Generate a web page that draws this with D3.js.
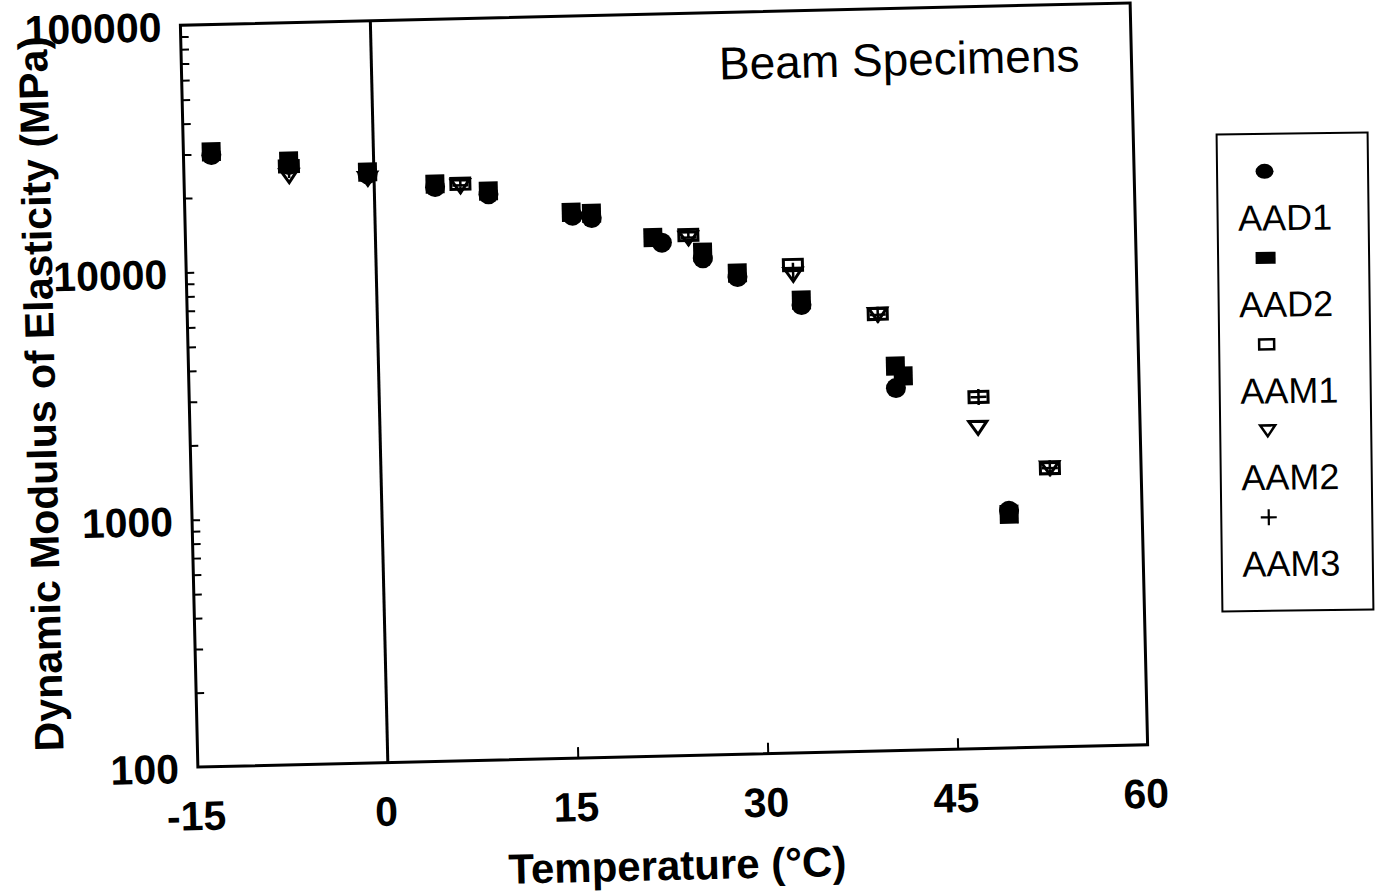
<!DOCTYPE html>
<html>
<head>
<meta charset="utf-8">
<script src="https://cdn.jsdelivr.net/npm/d3@7"></script>
<style>
  body { margin: 0; background: #fff; }
  text { font-family: "Liberation Sans", Arial, sans-serif; fill: #000; }
</style>
</head>
<body>
<script>
const width = 1391, height = 896;

// temperature (°C) and dynamic modulus (MPa)
const aad1Temp = [-12.8, -6.7, -0.5, 4.8, 9.0, 15.6, 17.1, 22.6, 25.8, 28.5, 33.5, 40.8, 49.5];
const aad1Mod  = [29700, 26600, 24000, 21000, 19400, 15600, 15200, 11900, 10200, 8500, 6460, 2920, 910];
const aad2Temp = [-12.8, -6.7, -0.5, 4.8, 9.0, 15.5, 17.1, 21.9, 25.8, 28.5, 33.5, 40.8, 41.4, 49.5];
const aad2Mod  = [30600, 27600, 24500, 21600, 20000, 16100, 15900, 12500, 10800, 8830, 6770, 3590, 3260, 880];
const aam1Temp = [-6.7, 6.8, 24.7, 32.9, 39.5, 47.3, 52.8];
const aam1Mod  = [26300, 21500, 12700, 9400, 5850, 2640, 1340];
const aam2Temp = [-6.7, -0.5, 6.8, 24.7, 32.9, 39.5, 47.2, 52.8];
const aam2Mod  = [24000, 23000, 21000, 12300, 8570, 5800, 1980, 1340];
const aam3Temp = [-6.7, 6.8, 24.7, 32.9, 39.5, 47.3, 52.8];
const aam3Mod  = [25400, 21200, 12400, 8900, 5800, 2640, 1340];

const seriesNames = ["AAD1", "AAD2", "AAM1", "AAM2", "AAM3"];
const xTicks = [-15, 0, 15, 30, 45, 60];
const xInnerTicks = [15, 30, 45];
const yTicks = [100, 1000, 10000, 100000];

const series = [
  {name: "AAD1", temp: aad1Temp, mod: aad1Mod},
  {name: "AAD2", temp: aad2Temp, mod: aad2Mod},
  {name: "AAM1", temp: aam1Temp, mod: aam1Mod},
  {name: "AAM2", temp: aam2Temp, mod: aam2Mod},
  {name: "AAM3", temp: aam3Temp, mod: aam3Mod}
];
const points = series.flatMap(s => s.temp.map((t, i) => ({series: s.name, t, v: s.mod[i]})));

const margin = {top: 14, right: 252, bottom: 140, left: 189};

const x = d3.scaleLinear()
  .domain([-15, 60])
  .range([margin.left, width - margin.right]);

const y = d3.scaleLog()
  .domain([100, 100000])
  .range([height - margin.bottom, margin.top]);

const svg = d3.select("body").append("svg")
  .attr("width", width)
  .attr("height", height);

// the scan is tilted a little, so the whole plot is turned
const plot = svg.append("g")
  .attr("transform", "rotate(-1.35, 664, 385)");

// markers
function addMarker(g, kind, big) {
  if (kind === "AAD1") {
    g.append("ellipse")
      .attr("rx", big ? 10 : 9).attr("ry", big ? 10 : 7.5)
      .attr("fill", "#000");
  } else if (kind === "AAD2") {
    const w = big ? 19 : 20, h = big ? 19 : 12;
    g.append("rect")
      .attr("x", -w / 2).attr("y", -h / 2).attr("width", w).attr("height", h)
      .attr("fill", "#000");
  } else if (kind === "AAM1") {
    const w = big ? 19 : 15, h = big ? 11 : 10;
    g.append("rect")
      .attr("x", -w / 2).attr("y", -h / 2).attr("width", w).attr("height", h)
      .attr("fill", "none").attr("stroke", "#000").attr("stroke-width", big ? 3 : 2.5);
  } else if (kind === "AAM2") {
    const w = big ? 18 : 15, h = big ? 13 : 11;
    g.append("path")
      .attr("d", `M${-w / 2},${-h / 2}L${w / 2},${-h / 2}L0,${h / 2}Z`)
      .attr("fill", "none").attr("stroke", "#000").attr("stroke-width", big ? 3 : 2.5)
      .attr("stroke-linejoin", "miter");
  } else {
    const a = big ? 8 : 8;
    g.append("path")
      .attr("d", `M${-a},0H${a}M0,${-a}V${a}`)
      .attr("stroke", "#000").attr("stroke-width", big ? 2.5 : 2.2);
  }
}

// frame
plot.append("rect")
  .attr("x", x(-15)).attr("y", y(100000))
  .attr("width", x(60) - x(-15)).attr("height", y(100) - y(100000))
  .attr("fill", "none").attr("stroke", "#000").attr("stroke-width", 3);

// vertical line at 0 °C
plot.append("line")
  .attr("x1", x(0)).attr("x2", x(0))
  .attr("y1", y(100000)).attr("y2", y(100))
  .attr("stroke", "#000").attr("stroke-width", 3);

// y minor ticks pointing inward
const yMinor = y.ticks().filter(d => d > 100 && d < 100000);
plot.append("g")
  .attr("transform", `translate(${x(-15)},0)`)
  .call(d3.axisRight(y).tickValues(yMinor).tickSize(8).tickFormat(""))
  .call(g => g.select(".domain").remove())
  .call(g => g.selectAll("line").attr("stroke-width", 2));

// y labels
plot.append("g")
  .attr("transform", `translate(${x(-15)},2)`)
  .call(d3.axisLeft(y).tickValues(yTicks).tickSize(0).tickPadding(19).tickFormat(d => String(d)))
  .call(g => g.select(".domain").remove())
  .call(g => g.selectAll("text")
    .attr("font-size", 41).attr("font-weight", "bold")
    .attr("font-family", "'Liberation Sans', Arial, sans-serif"));

// x ticks pointing inward
plot.append("g")
  .attr("transform", `translate(0,${y(100)})`)
  .call(d3.axisTop(x).tickValues(xInnerTicks).tickSize(11).tickFormat(""))
  .call(g => g.select(".domain").remove())
  .call(g => g.selectAll("line").attr("stroke-width", 2));

// x labels (plain hyphen for the minus, as in the scan)
plot.append("g")
  .attr("transform", `translate(-3,${y(100)})`)
  .call(d3.axisBottom(x).tickValues(xTicks).tickSize(0).tickPadding(34).tickFormat(d => String(d)))
  .call(g => g.select(".domain").remove())
  .call(g => g.selectAll("text")
    .attr("font-size", 41).attr("font-weight", "bold")
    .attr("font-family", "'Liberation Sans', Arial, sans-serif"));

// axis titles
plot.append("text")
  .attr("x", 666).attr("y", 880)
  .attr("text-anchor", "middle")
  .attr("font-size", 42).attr("font-weight", "bold")
  .text("Temperature (°C)");

plot.append("text")
  .attr("transform", "translate(55,379) rotate(-90)")
  .attr("text-anchor", "middle")
  .attr("font-size", 41).attr("font-weight", "bold")
  .text("Dynamic Modulus of Elasticity (MPa)");

plot.append("text")
  .attr("x", 1087).attr("y", 81)
  .attr("text-anchor", "end")
  .attr("font-size", 46)
  .text("Beam Specimens");

// data points
plot.append("g")
  .selectAll("g")
  .data(points)
  .join("g")
  .attr("transform", d => `translate(${x(d.t)},${y(d.v)})`)
  .each(function(d) { addMarker(d3.select(this), d.series, true); });

// legend (tilted a bit less than the plot)
const legend = svg.append("g")
  .attr("transform", "rotate(-0.7, 1295, 372)");

legend.append("rect")
  .attr("x", 1219.5).attr("y", 133.5)
  .attr("width", 151).attr("height", 477)
  .attr("fill", "none").attr("stroke", "#000").attr("stroke-width", 2);

const legendItem = legend.selectAll("g.item")
  .data(seriesNames)
  .join("g")
  .attr("class", "item")
  .attr("transform", (d, i) => `translate(0,${230 + i * 86.5})`);

legendItem.append("g")
  .attr("transform", "translate(1267,-59)")
  .each(function(d) { addMarker(d3.select(this), d, false); });

legendItem.append("text")
  .attr("x", 1240).attr("y", 0)
  .attr("font-size", 36)
  .text(d => d);
</script>
</body>
</html>
